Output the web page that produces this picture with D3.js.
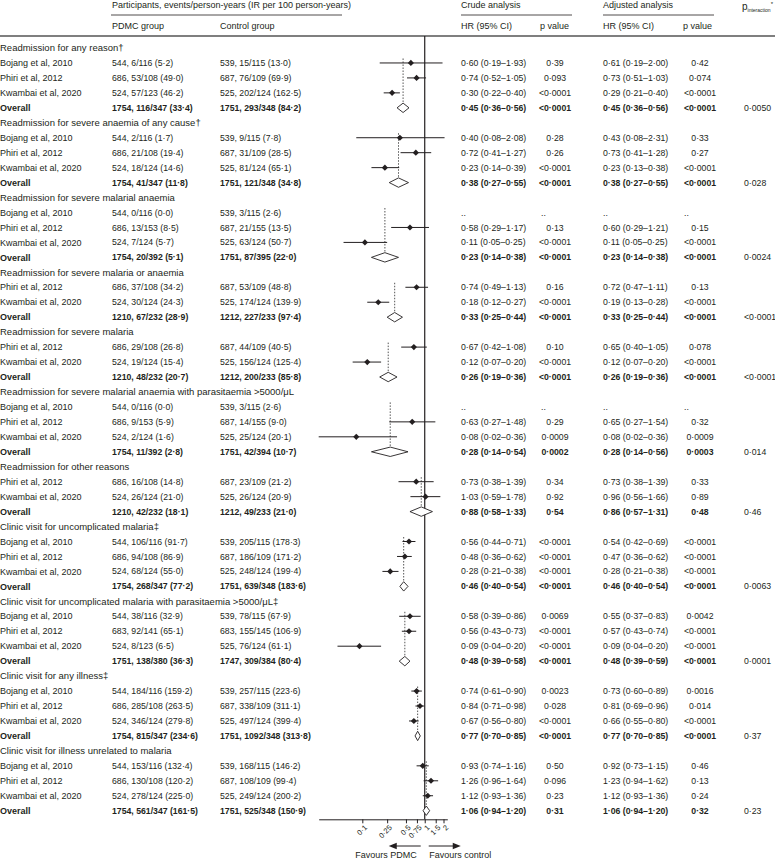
<!DOCTYPE html>
<html>
<head>
<meta charset="utf-8">
<script src="https://cdn.jsdelivr.net/npm/d3@7"></script>
<style>
body { margin: 0; background: #fff; }
text { font-family: "Liberation Sans", Arial, sans-serif; fill: #231f20; }
</style>
</head>
<body>
<div id="chart"></div>
<script>
const outcomes = [
    "Readmission for any reason†",
    "Readmission for severe anaemia of any cause†",
    "Readmission for severe malarial anaemia",
    "Readmission for severe malaria or anaemia",
    "Readmission for severe malaria",
    "Readmission for severe malarial anaemia with parasitaemia >5000/μL",
    "Readmission for other reasons",
    "Clinic visit for uncomplicated malaria‡",
    "Clinic visit for uncomplicated malaria with parasitaemia >5000/μL‡",
    "Clinic visit for any illness‡",
    "Clinic visit for illness unrelated to malaria"
];
const pInteraction = ["0·0050", "0·028", "0·0024", "<0·0001", "<0·0001", "0·014", "0·46", "0·0063", "0·0001", "0·37", "0·23"];

const B = "Bojang et al, 2010", P = "Phiri et al, 2012", K = "Kwambai et al, 2020", O = "Overall";

// one entry per study row, rowOutcome says which block it sits in
const rowOutcome = [0,0,0,0, 1,1,1,1, 2,2,2,2, 3,3,3, 4,4,4, 5,5,5,5, 6,6,6, 7,7,7,7, 8,8,8,8, 9,9,9,9, 10,10,10,10];
const rowStudy = [B,P,K,O, B,P,K,O, B,P,K,O, P,K,O, P,K,O, B,P,K,O, P,K,O, B,P,K,O, B,P,K,O, B,P,K,O, B,P,K,O];

const pdmcText = [
    "544, 6/116 (5·2)", "686, 53/108 (49·0)", "524, 57/123 (46·2)", "1754, 116/347 (33·4)",
    "544, 2/116 (1·7)", "686, 21/108 (19·4)", "524, 18/124 (14·6)", "1754, 41/347 (11·8)",
    "544, 0/116 (0·0)", "686, 13/153 (8·5)", "524, 7/124 (5·7)", "1754, 20/392 (5·1)",
    "686, 37/108 (34·2)", "524, 30/124 (24·3)", "1210, 67/232 (28·9)",
    "686, 29/108 (26·8)", "524, 19/124 (15·4)", "1210, 48/232 (20·7)",
    "544, 0/116 (0·0)", "686, 9/153 (5·9)", "524, 2/124 (1·6)", "1754, 11/392 (2·8)",
    "686, 16/108 (14·8)", "524, 26/124 (21·0)", "1210, 42/232 (18·1)",
    "544, 106/116 (91·7)", "686, 94/108 (86·9)", "524, 68/124 (55·0)", "1754, 268/347 (77·2)",
    "544, 38/116 (32·9)", "683, 92/141 (65·1)", "524, 8/123 (6·5)", "1751, 138/380 (36·3)",
    "544, 184/116 (159·2)", "686, 285/108 (263·5)", "524, 346/124 (279·8)", "1754, 815/347 (234·6)",
    "544, 153/116 (132·4)", "686, 130/108 (120·2)", "524, 278/124 (225·0)", "1754, 561/347 (161·5)"
];
const controlText = [
    "539, 15/115 (13·0)", "687, 76/109 (69·9)", "525, 202/124 (162·5)", "1751, 293/348 (84·2)",
    "539, 9/115 (7·8)", "687, 31/109 (28·5)", "525, 81/124 (65·1)", "1751, 121/348 (34·8)",
    "539, 3/115 (2·6)", "687, 21/155 (13·5)", "525, 63/124 (50·7)", "1751, 87/395 (22·0)",
    "687, 53/109 (48·8)", "525, 174/124 (139·9)", "1212, 227/233 (97·4)",
    "687, 44/109 (40·5)", "525, 156/124 (125·4)", "1212, 200/233 (85·8)",
    "539, 3/115 (2·6)", "687, 14/155 (9·0)", "525, 25/124 (20·1)", "1751, 42/394 (10·7)",
    "687, 23/109 (21·2)", "525, 26/124 (20·9)", "1212, 49/233 (21·0)",
    "539, 205/115 (178·3)", "687, 186/109 (171·2)", "525, 248/124 (199·4)", "1751, 639/348 (183·6)",
    "539, 78/115 (67·9)", "683, 155/145 (106·9)", "525, 76/124 (61·1)", "1747, 309/384 (80·4)",
    "539, 257/115 (223·6)", "687, 338/109 (311·1)", "525, 497/124 (399·4)", "1751, 1092/348 (313·8)",
    "539, 168/115 (146·2)", "687, 108/109 (99·4)", "525, 249/124 (200·2)", "1751, 525/348 (150·9)"
];

const crudeHR = [0.60,0.74,0.30,0.45, 0.40,0.72,0.23,0.38, null,0.58,0.11,0.23, 0.74,0.18,0.33, 0.67,0.12,0.26, null,0.63,0.08,0.28, 0.73,1.03,0.88, 0.56,0.48,0.28,0.46, 0.58,0.56,0.09,0.48, 0.74,0.84,0.67,0.77, 0.93,1.26,1.12,1.06];
const crudeLo = [0.19,0.52,0.22,0.36, 0.08,0.41,0.14,0.27, null,0.29,0.05,0.14, 0.49,0.12,0.25, 0.42,0.07,0.19, null,0.27,0.02,0.14, 0.38,0.59,0.58, 0.44,0.36,0.21,0.40, 0.39,0.43,0.04,0.39, 0.61,0.71,0.56,0.70, 0.74,0.96,0.93,0.94];
const crudeHi = [1.93,1.05,0.40,0.56, 2.08,1.27,0.39,0.55, null,1.17,0.25,0.38, 1.13,0.27,0.44, 1.08,0.20,0.36, null,1.48,0.36,0.54, 1.39,1.78,1.33, 0.71,0.62,0.38,0.54, 0.86,0.73,0.20,0.58, 0.90,0.98,0.80,0.85, 1.16,1.64,1.36,1.20];
const crudeP = ["0·39","0·093","<0·0001","<0·0001", "0·28","0·26","<0·0001","<0·0001", "..","0·13","<0·0001","<0·0001", "0·16","<0·0001","<0·0001", "0·10","<0·0001","<0·0001", "..","0·29","0·0009","0·0002", "0·34","0·92","0·54", "<0·0001","<0·0001","<0·0001","<0·0001", "0·0069","<0·0001","<0·0001","<0·0001", "0·0023","0·028","<0·0001","<0·0001", "0·50","0·096","0·23","0·31"];

const adjHR = [0.61,0.73,0.29,0.45, 0.43,0.73,0.23,0.38, null,0.60,0.11,0.23, 0.72,0.19,0.33, 0.65,0.12,0.26, null,0.65,0.08,0.28, 0.73,0.96,0.86, 0.54,0.47,0.28,0.46, 0.55,0.57,0.09,0.48, 0.73,0.81,0.66,0.77, 0.92,1.23,1.12,1.06];
const adjLo = [0.19,0.51,0.21,0.36, 0.08,0.41,0.13,0.27, null,0.29,0.05,0.14, 0.47,0.13,0.25, 0.40,0.07,0.19, null,0.27,0.02,0.14, 0.38,0.56,0.57, 0.42,0.36,0.21,0.40, 0.37,0.43,0.04,0.39, 0.60,0.69,0.55,0.70, 0.73,0.94,0.93,0.94];
const adjHi = [2.00,1.03,0.40,0.56, 2.31,1.28,0.38,0.55, null,1.21,0.25,0.38, 1.11,0.28,0.44, 1.05,0.20,0.36, null,1.54,0.36,0.56, 1.39,1.66,1.31, 0.69,0.62,0.38,0.54, 0.83,0.74,0.20,0.59, 0.89,0.96,0.80,0.85, 1.15,1.62,1.36,1.20];
const adjP = ["0·42","0·074","<0·0001","<0·0001", "0·33","0·27","<0·0001","<0·0001", "..","0·15","<0·0001","<0·0001", "0·13","<0·0001","<0·0001", "0·078","<0·0001","<0·0001", "..","0·32","0·0009","0·0003", "0·33","0·89","0·48", "<0·0001","<0·0001","<0·0001","<0·0001", "0·0042","<0·0001","<0·0001","<0·0001", "0·0016","0·014","<0·0001","<0·0001", "0·46","0·13","0·24","0·32"];

const tickVals = [0.1, 0.25, 0.5, 0.75, 1, 1.5, 2];

const width = 775, height = 859;
const col = { pdmc: 112, control: 220, crude: 461, crudeP: 555, adj: 603, adjP: 700, pint: 744 };

const f2 = d3.format(".2f");
const dot = s => String(s).replace(/\./g, "·");
const hrText = (h, l, u) => h == null ? ".." : dot(`${f2(h)} (${f2(l)}–${f2(u)})`);

// flatten into display rows: a heading then its studies
const rows = [];
outcomes.forEach((o, k) => {
    rows.push({ type: "head", label: o, k });
    rowStudy.forEach((s, i) => {
        if (rowOutcome[i] === k) rows.push({ type: s === O ? "overall" : "study", label: s, i, k });
    });
});
rows.forEach((r, j) => r.j = j);

const svg = d3.select("#chart").append("svg")
    .attr("width", width)
    .attr("height", height);

const y = d3.scaleLinear().domain([0, rows.length - 1]).range([48, 810.7]);
const x = d3.scaleLog().domain([0.02, 2.3]).range([318.7, 447.3]);
const axisY = 819.3;

// header
const hdr = svg.append("g").attr("font-size", 9);
hdr.append("text").attr("x", col.pdmc).attr("y", 5).attr("dy", "0.35em")
    .text("Participants, events/person-years (IR per 100 person-years)");
hdr.append("text").attr("x", col.crude).attr("y", 5).attr("dy", "0.35em").text("Crude analysis");
hdr.append("text").attr("x", col.adj).attr("y", 5).attr("dy", "0.35em").text("Adjusted analysis");
const pi = hdr.append("text").attr("x", 742).attr("y", 7).attr("dy", "0.35em");
pi.append("tspan").attr("font-size", 10).text("p");
pi.append("tspan").attr("font-size", 5).attr("dy", 1.5).text("interaction");
pi.append("tspan").attr("font-size", 6).attr("dy", -6).text("*");

[[111, 342], [461, 572], [603, 714]].forEach(([a, b]) => {
    hdr.append("line").attr("x1", a).attr("x2", b).attr("y1", 15).attr("y2", 15)
        .attr("stroke", "#231f20").attr("stroke-width", 0.8);
});
[["PDMC group", col.pdmc], ["Control group", col.control], ["HR (95% CI)", col.crude],
 ["p value", 540], ["HR (95% CI)", col.adj], ["p value", 683]].forEach(([t, xx]) => {
    hdr.append("text").attr("x", xx).attr("y", 26).attr("dy", "0.35em").text(t);
});
svg.append("line").attr("x1", 0).attr("x2", width).attr("y1", 36).attr("y2", 36)
    .attr("stroke", "#555").attr("stroke-width", 1.3);

// left text columns
const rowG = svg.append("g").selectAll("g").data(rows).join("g")
    .attr("transform", d => `translate(0,${y(d.j)})`);

rowG.append("text")
    .attr("x", 0).attr("dy", "0.35em")
    .attr("font-size", d => d.type === "head" ? 9.5 : 9)
    .attr("font-weight", d => d.type === "overall" ? "bold" : null)
    .text(d => d.label);

const dataRows = rowG.filter(d => d.type !== "head");
const numText = (sel, xx, fn, anchor, plain) => sel.append("text")
    .attr("x", xx).attr("dy", "0.35em").attr("font-size", 8.7)
    .attr("text-anchor", anchor || "start")
    .attr("font-weight", d => d.type === "overall" && !plain ? "bold" : null)
    .text(fn);

numText(dataRows, col.pdmc, d => pdmcText[d.i]);
numText(dataRows, col.control, d => controlText[d.i]);
numText(dataRows, col.crude, d => hrText(crudeHR[d.i], crudeLo[d.i], crudeHi[d.i]));
numText(dataRows.filter(d => crudeP[d.i] !== ".."), col.crudeP, d => crudeP[d.i], "middle");
numText(dataRows.filter(d => crudeP[d.i] === ".."), 541, d => crudeP[d.i]);
numText(dataRows, col.adj, d => hrText(adjHR[d.i], adjLo[d.i], adjHi[d.i]));
numText(dataRows.filter(d => adjP[d.i] !== ".."), col.adjP, d => adjP[d.i], "middle");
numText(dataRows.filter(d => adjP[d.i] === ".."), 684, d => adjP[d.i]);
numText(rowG.filter(d => d.type === "overall"), col.pint, d => pInteraction[d.k], "start", true);

// forest plot
const plot = svg.append("g");

// dotted line at each pooled estimate
outcomes.forEach((o, k) => {
    const blk = rows.filter(r => r.k === k && r.type !== "head");
    const ov = blk[blk.length - 1];
    plot.append("line")
        .attr("x1", x(crudeHR[ov.i])).attr("x2", x(crudeHR[ov.i]))
        .attr("y1", y(blk[0].j) - 4.5).attr("y2", y(ov.j) - 4.7)
        .attr("stroke", "#555").attr("stroke-width", 1)
        .attr("stroke-dasharray", "1.5,1.5");
});

plot.append("line")
    .attr("x1", x(1)).attr("x2", x(1)).attr("y1", 36).attr("y2", axisY)
    .attr("stroke", "#231f20").attr("stroke-width", 1.2);

const studies = rows.filter(r => r.type === "study" && crudeHR[r.i] != null);
plot.selectAll(".ci").data(studies).join("line")
    .attr("class", "ci")
    .attr("x1", d => x(crudeLo[d.i])).attr("x2", d => x(crudeHi[d.i]))
    .attr("y1", d => y(d.j)).attr("y2", d => y(d.j))
    .attr("stroke", "#231f20").attr("stroke-width", 1);
plot.selectAll(".pt").data(studies).join("path")
    .attr("class", "pt")
    .attr("d", d3.symbol(d3.symbolSquare, 19))
    .attr("transform", d => `translate(${x(crudeHR[d.i])},${y(d.j)}) rotate(45)`)
    .attr("fill", "#231f20");

const overall = rows.filter(r => r.type === "overall");
plot.selectAll(".dia").data(overall).join("path")
    .attr("class", "dia")
    .attr("d", d => {
        const c = y(d.j), h = 4.7;
        return `M${x(crudeLo[d.i])},${c}L${x(crudeHR[d.i])},${c - h}L${x(crudeHi[d.i])},${c}L${x(crudeHR[d.i])},${c + h}Z`;
    })
    .attr("fill", "#fff").attr("stroke", "#231f20").attr("stroke-width", 0.9);

// axis
svg.append("g")
    .attr("transform", `translate(0,${axisY})`)
    .call(d3.axisBottom(x).tickValues(tickVals).tickFormat(d => dot(d)).tickSize(4).tickSizeOuter(0))
    .call(g => g.selectAll("path, line").attr("stroke", "#231f20"))
    .call(g => g.selectAll("text")
        .attr("font-size", 7.5)
        .attr("text-anchor", "end")
        .attr("x", 0).attr("y", 0).attr("dy", "0.35em")
        .attr("transform", "translate(3,7) rotate(-45)"));

// favours arrows
const ay = 846;
const arrow = (from, to) => {
    const dir = Math.sign(to - from);
    svg.append("line").attr("x1", from).attr("x2", to - dir * 6).attr("y1", ay).attr("y2", ay)
        .attr("stroke", "#231f20").attr("stroke-width", 1);
    svg.append("path")
        .attr("d", `M${to},${ay}L${to - dir * 8},${ay - 3.2}L${to - dir * 8},${ay + 3.2}Z`)
        .attr("fill", "#231f20");
};
arrow(x(1) - 4, x(1) - 36);
arrow(x(1) + 4, x(1) + 36);
svg.append("text").attr("x", x(1) - 8).attr("y", 854.5).attr("dy", "0.35em")
    .attr("font-size", 9).attr("text-anchor", "end").text("Favours PDMC");
svg.append("text").attr("x", x(1) + 4.5).attr("y", 854.5).attr("dy", "0.35em")
    .attr("font-size", 9).text("Favours control");
</script>
</body>
</html>
